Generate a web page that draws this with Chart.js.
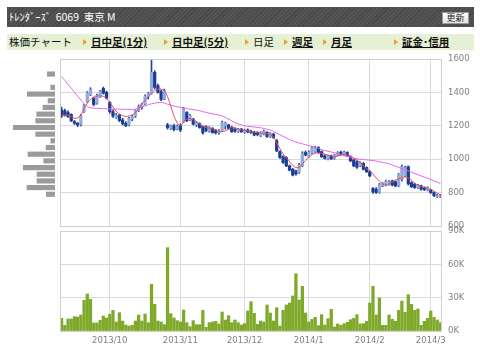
<!DOCTYPE html>
<html><head><meta charset="utf-8">
<script src="https://cdn.jsdelivr.net/npm/chart.js@4"></script>
<style>
body{margin:0;width:480px;height:360px;background:#fff;position:relative;overflow:hidden;font-family:"Noto Sans CJK JP",sans-serif}
#hdr{position:absolute;left:7px;top:7px;width:467px;height:20px;background:repeating-linear-gradient(135deg,#474747 0 1px,#545454 1px 3px)}
#hdr .t{position:absolute;left:2px;top:0;line-height:20px;font-size:10.5px;color:#fff;white-space:pre}
#btn{position:absolute;left:442px;top:12px;width:25px;height:10px;background:linear-gradient(#fff,#e4e4e4);border:1px solid #9a9a9a;font-size:9px;line-height:10px;text-align:center;color:#222}
#nav{position:absolute;left:7px;top:34px;width:467px;height:16px;background:#e6f0d4}
.ni{position:absolute;top:0;line-height:16px;font-size:10.5px;color:#111;white-space:nowrap}
.lk{font-weight:bold;text-decoration:underline}
.tri{position:absolute;top:5px;width:0;height:0;border-left:4px solid #f0a020;border-top:3px solid transparent;border-bottom:3px solid transparent}
.cv{position:absolute}
</style></head>
<body>
<div id="hdr"><span class="t">ﾄﾚﾝﾀﾞｰｽﾞ  6069  東京 M</span></div>
<div id="btn">更新</div>
<div id="nav">
 <span class="ni" style="left:2px">株価チャート</span>
 <span class="tri" style="left:76px"></span><span class="ni lk" style="left:84px">日中足(1分)</span>
 <span class="tri" style="left:157px"></span><span class="ni lk" style="left:165px">日中足(5分)</span>
 <span class="tri" style="left:238px"></span><span class="ni" style="left:246px">日足</span>
 <span class="tri" style="left:277px"></span><span class="ni lk" style="left:285px">週足</span>
 <span class="tri" style="left:316px"></span><span class="ni lk" style="left:324px">月足</span>
 <span class="tri" style="left:387px"></span><span class="ni lk" style="left:395px">証金･信用</span>
</div>
<canvas id="hist" class="cv" width="60" height="185" style="left:0;top:50px"></canvas>
<canvas id="price" class="cv" width="480" height="185" style="left:0;top:50px"></canvas>
<canvas id="vol" class="cv" width="480" height="135" style="left:0;top:225px"></canvas>
<script>
const dates = [
'2013/09/06','2013/09/09','2013/09/10','2013/09/11','2013/09/12','2013/09/13','2013/09/17','2013/09/18','2013/09/19','2013/09/20','2013/09/24','2013/09/25','2013/09/26','2013/09/27','2013/09/30',
'2013/10/01','2013/10/02','2013/10/03','2013/10/04','2013/10/07','2013/10/08','2013/10/09','2013/10/10','2013/10/11','2013/10/15','2013/10/16','2013/10/17','2013/10/18','2013/10/21','2013/10/22','2013/10/23','2013/10/24','2013/10/25','2013/10/28','2013/10/29','2013/10/30','2013/10/31',
'2013/11/01','2013/11/05','2013/11/06','2013/11/07','2013/11/08','2013/11/11','2013/11/12','2013/11/13','2013/11/14','2013/11/15','2013/11/18','2013/11/19','2013/11/20','2013/11/21','2013/11/22','2013/11/25','2013/11/26','2013/11/27','2013/11/28','2013/11/29',
'2013/12/02','2013/12/03','2013/12/04','2013/12/05','2013/12/06','2013/12/09','2013/12/10','2013/12/11','2013/12/12','2013/12/13','2013/12/16','2013/12/17','2013/12/18','2013/12/19','2013/12/20','2013/12/24','2013/12/25','2013/12/26','2013/12/27','2013/12/30',
'2014/01/06','2014/01/07','2014/01/08','2014/01/09','2014/01/10','2014/01/14','2014/01/15','2014/01/16','2014/01/17','2014/01/20','2014/01/21','2014/01/22','2014/01/23','2014/01/24','2014/01/27','2014/01/28','2014/01/29','2014/01/30','2014/01/31',
'2014/02/03','2014/02/04','2014/02/05','2014/02/06','2014/02/07','2014/02/10','2014/02/12','2014/02/13','2014/02/14','2014/02/17','2014/02/18','2014/02/19','2014/02/20','2014/02/21','2014/02/24','2014/02/25','2014/02/26','2014/02/27','2014/02/28',
'2014/03/03','2014/03/04','2014/03/05','2014/03/06'];

const monthStarts = ['2013/10/01','2013/11/01','2013/12/02','2014/01/06','2014/02/03','2014/03/03'];
const monthLabels = ['2013/10','2013/11','2013/12','2014/1','2014/2','2014/3'];

const open = [1295,1290,1280,1268,1225,1215,1208,1285,1345,1385,1365,1335,1376,1424,1400,
1340,1285,1250,1262,1235,1215,1205,1240,1258,1290,1315,1330,1375,1395,1520,1440,1405,1360,1205,1185,1200,1180,
1200,1225,1280,1235,1240,1205,1212,1195,1195,1168,1185,1170,1160,1170,1200,1205,1190,1180,1165,1180,
1160,1175,1165,1162,1160,1140,1150,1160,1135,1150,1110,1045,1015,1010,960,940,930,920,960,1040,
1015,1035,1045,1070,1045,1020,1000,1020,1005,1025,1042,1025,1040,1015,995,985,960,975,950,
925,825,820,800,840,845,850,870,865,840,880,900,955,860,850,830,840,830,815,
815,800,775,775];
const high = [1312,1300,1290,1272,1232,1220,1268,1330,1405,1428,1372,1390,1412,1432,1408,
1345,1295,1275,1268,1245,1225,1250,1262,1295,1325,1335,1385,1400,1605,1530,1450,1415,1420,1215,1205,1210,1205,
1212,1310,1285,1268,1245,1225,1218,1200,1200,1195,1190,1178,1178,1228,1222,1210,1198,1188,1185,1185,
1180,1182,1175,1168,1165,1165,1175,1165,1160,1155,1118,1050,1020,1015,965,945,935,975,1045,1050,
1050,1075,1078,1075,1050,1028,1025,1025,1030,1045,1048,1048,1045,1020,1000,990,985,980,955,
930,830,830,855,860,875,872,875,870,915,965,958,960,865,855,850,845,835,835,
820,805,790,788];
const low = [1250,1258,1250,1225,1208,1195,1200,1280,1340,1380,1320,1330,1370,1390,1360,
1275,1250,1245,1225,1205,1195,1200,1230,1250,1285,1300,1325,1360,1390,1420,1395,1350,1355,1180,1178,1170,1175,
1165,1220,1225,1230,1205,1195,1185,1150,1165,1162,1155,1150,1150,1165,1180,1180,1160,1160,1160,1160,
1155,1158,1155,1140,1140,1135,1145,1130,1130,1125,1045,1005,975,955,930,900,905,915,955,1020,
1010,1030,1040,1035,1010,1000,995,998,1000,1020,1022,1020,1015,985,955,945,955,935,920,
895,795,795,795,835,840,845,840,835,835,870,895,845,830,825,825,815,812,810,
795,775,770,770];
const close = [1258,1265,1255,1230,1215,1205,1262,1322,1398,1418,1328,1382,1408,1395,1366,
1285,1258,1265,1232,1212,1200,1245,1255,1290,1318,1328,1378,1392,1520,1430,1400,1358,1410,1190,1200,1178,1198,
1175,1300,1230,1262,1210,1218,1190,1158,1170,1190,1160,1158,1172,1220,1215,1185,1165,1168,1180,1165,
1175,1162,1160,1145,1148,1160,1168,1135,1155,1130,1050,1010,980,960,935,905,912,965,1035,1025,
1042,1068,1070,1040,1015,1005,1020,1002,1025,1040,1028,1042,1020,990,960,952,980,940,925,
900,805,800,848,855,870,865,845,840,910,955,950,852,835,830,845,820,818,830,
800,782,782,780];

const maShort = [1264,1264,1263,1255,1245,1248,1262,1305,1335,1357,1371,1377,1380,1376,1363,
1340,1313,1287,1272,1262,1256,1259,1266,1279,1302,1332,1355,1375,1392,1410,1420,1420,1410,1375,1318,1260,1218,
1200,1225,1240,1244,1236,1226,1210,1197,1190,1186,1181,1176,1167,1165,1170,1178,1192,1188,1181,1176,
1171,1168,1165,1162,1160,1158,1156,1154,1145,1136,1095,1064,1032,1010,986,963,950,952,974,992,
1010,1027,1037,1038,1035,1030,1024,1018,1014,1020,1027,1029,1028,1017,1007,995,982,960,945,
931,912,888,869,852,845,852,864,875,882,888,894,888,876,856,845,836,830,825,
820,808,797,786];
const maLong = [1495,1472,1448,1425,1401,1378,1355,1332,1315,1308,1306,1305,1304,1303,1302,
1301,1300,1300,1299,1299,1299,1298,1298,1300,1305,1312,1319,1326,1332,1336,1339,1340,1336,1329,1323,1318,1314,
1310,1306,1303,1300,1297,1294,1290,1285,1280,1276,1272,1268,1265,1259,1250,1240,1230,1220,1212,1206,
1200,1197,1195,1193,1190,1188,1184,1179,1175,1165,1156,1147,1137,1127,1118,1110,1102,1097,1092,1087,
1082,1077,1072,1066,1057,1052,1048,1043,1039,1034,1028,1022,1017,1011,1005,1002,1000,998,996,
994,992,989,985,981,977,972,965,958,951,944,937,930,922,914,907,900,892,886,
878,870,862,854];

const volume = [11400,5100,10800,10800,12900,12600,14400,27600,33300,28500,7200,7200,9600,13500,11700,
15000,18600,8100,16500,9000,5400,4500,5100,9000,14400,9000,15300,7500,42000,24000,9000,8100,5700,75000,15600,11700,9300,
8100,18900,7500,3900,9300,5700,5700,18600,3300,7500,8100,8700,6300,17100,9900,13800,7500,9900,7500,5400,
6600,18000,26400,15900,6000,9000,8100,23400,16200,9000,21000,4500,18600,23400,25200,31500,51600,27900,40200,16200,
8100,10500,12300,4800,14700,5400,11100,19500,3600,6300,5100,6600,7800,10200,11400,14700,6300,6600,8700,
25200,40200,14400,29700,5100,5100,14400,10500,8700,18600,27000,16800,32700,24000,18600,19800,5100,8700,11400,
18000,12300,9900,7500];

const histPrices = [1510,1430,1390,1350,1310,1270,1230,1190,1150,1110,1070,1030,990,950,910,870,830,790];
const histVolumes = [77,43,277,70,120,183,193,417,193,43,90,270,113,317,180,180,280,87];

const priceTicks = [600,800,1000,1200,1400,1600];
const volumeTicks = [0,30000,60000,90000];

const DARK = '#1b3d95', LIGHT = '#93abd9', WICK = '#23449c';
const GRID = '#dadada', FRAME = '#cfcfcf', TXT = '#808080';
const tickFont = {family:'DejaVu Sans', size:8.5};

const frame = {id:'frame', afterDraw(c){const a=c.chartArea, x=c.ctx; x.save(); x.strokeStyle=FRAME; x.lineWidth=1; x.strokeRect(Math.round(a.left)+0.5,Math.round(a.top)+0.5,Math.round(a.right-a.left)-1,Math.round(a.bottom-a.top)); x.restore();}};
const monthIdx = monthStarts.map(d => dates.indexOf(d));
const gridColor = ctx => monthIdx.includes(ctx.index) ? GRID : 'rgba(0,0,0,0)';
const fitY = s => { s.width = 38; s.paddingTop = 0; s.paddingBottom = 0; };
const fitX = h => s => { s.height = h; s.paddingLeft = 0; s.paddingRight = 0; };

new Chart(document.getElementById('price'), {
  type:'bar',
  data:{labels:dates, datasets:[
    {type:'line', data:maShort, borderColor:'#ec4a5c', borderWidth:1, pointRadius:0, tension:0.35, order:1},
    {type:'line', data:maLong, borderColor:'#e066f2', borderWidth:1, pointRadius:0, tension:0.35, order:1},
    {data:open.map((o,i)=>[o,close[i]]), backgroundColor:open.map((o,i)=>close[i]>=o?LIGHT:DARK), barThickness:2.6, grouped:false, order:2},
    {data:low.map((l,i)=>[l,high[i]]), backgroundColor:WICK, barThickness:1, grouped:false, order:3}
  ]},
  options:{responsive:false, animation:false, events:[],
    layout:{padding:{left:60,top:9,bottom:9,right:0}},
    plugins:{legend:{display:false}, tooltip:{enabled:false}},
    scales:{
      x:{type:'category', offset:true, grid:{offset:false, color:gridColor, drawTicks:false}, border:{display:false}, ticks:{display:false, autoSkip:false}, afterFit:fitX(0)},
      y:{position:'right', min:600, max:1600, afterBuildTicks:s=>{s.ticks=priceTicks.map(v=>({value:v}));}, grid:{color:GRID, drawTicks:false}, border:{display:false}, ticks:{color:TXT, font:tickFont, padding:6, callback:v=>String(v)}, afterFit:fitY}
    }},
  plugins:[frame]
});

new Chart(document.getElementById('vol'), {
  type:'bar',
  data:{labels:dates, datasets:[{data:volume, backgroundColor:'#7fa92b', barThickness:2.6}]},
  options:{responsive:false, animation:false, events:[],
    layout:{padding:{left:60,top:6,right:0,bottom:0}},
    plugins:{legend:{display:false}, tooltip:{enabled:false}},
    scales:{
      x:{type:'category', offset:true, grid:{offset:false, color:gridColor, drawTicks:false}, border:{display:false},
         ticks:{autoSkip:false, maxRotation:0, color:TXT, font:tickFont, padding:5, callback:(v,i)=>{const k=monthIdx.indexOf(i); return k>=0?monthLabels[k]:'';}},
         afterFit:fitX(29)},
      y:{position:'right', min:0, max:90000, afterBuildTicks:s=>{s.ticks=volumeTicks.map(v=>({value:v}));}, grid:{color:GRID, drawTicks:false}, border:{display:false},
         ticks:{color:TXT, font:tickFont, padding:6, callback:v=>(v/1000)+'K'}, afterFit:fitY}
    }},
  plugins:[frame]
});

new Chart(document.getElementById('hist'), {
  type:'bar',
  data:{datasets:[{data:histPrices.map((p,i)=>({x:histVolumes[i], y:p})), backgroundColor:'#9b9b9b', barThickness:4.5}]},
  options:{indexAxis:'y', responsive:false, animation:false, events:[],
    layout:{padding:{left:10,right:5,top:9,bottom:9}},
    plugins:{legend:{display:false}, tooltip:{enabled:false}},
    scales:{
      y:{type:'linear', min:600, max:1600, offset:false, display:false},
      x:{type:'linear', min:0, max:450, reverse:true, offset:false, display:false}
    }}
});
</script>
</body></html>
